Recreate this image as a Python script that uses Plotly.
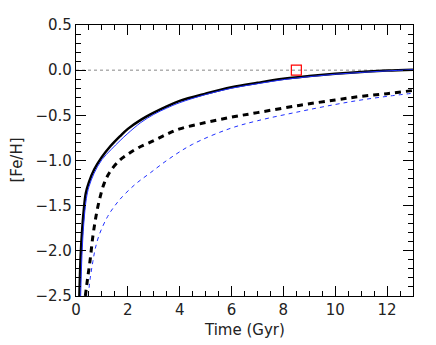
import plotly.graph_objects as go

# black solid
t_black = [0.13, 0.18, 0.23, 0.3, 0.38, 0.5, 0.7, 1.0, 1.3, 1.7, 2.0, 2.5, 3.0, 3.5, 4.0,
           5.0, 6.0, 7.0, 8.0, 9.0, 10.0, 11.0, 12.0, 13.0]
feh_black = [-2.5, -2.05, -1.8, -1.55, -1.36, -1.24, -1.10, -0.96, -0.85, -0.73, -0.65, -0.55,
             -0.47, -0.40, -0.34, -0.26, -0.19, -0.14, -0.095, -0.065, -0.04, -0.02, -0.005, 0.005]

# blue solid
t_blue = [0.18, 0.23, 0.3, 0.4, 0.5, 0.7, 1.0, 1.35, 1.7, 2.0, 2.5, 3.0, 3.5, 4.0,
          5.0, 6.0, 7.0, 8.0, 9.0, 10.0, 11.0, 12.0, 13.0]
feh_blue = [-2.5, -2.05, -1.7, -1.42, -1.29, -1.14, -0.99, -0.88, -0.78, -0.70, -0.58,
            -0.49, -0.42, -0.36, -0.27, -0.20, -0.15, -0.105, -0.072, -0.045, -0.025, -0.008, 0.005]

# black dashed
t_black_d = [0.36, 0.45, 0.55, 0.65, 0.77, 0.9, 1.09, 1.3, 1.67, 2.0, 2.4, 3.0, 3.5, 4.0,
             5.0, 6.0, 7.0, 8.6, 10.0, 11.0, 12.0, 13.0]
feh_black_d = [-2.5, -2.3, -2.09, -1.84, -1.62, -1.44, -1.25, -1.13, -1.0, -0.93, -0.86,
               -0.78, -0.71, -0.65, -0.58, -0.52, -0.47, -0.39, -0.33, -0.29, -0.26, -0.225]

# blue dashed
t_blue_d = [0.47, 0.55, 0.65, 0.74, 0.9, 1.22, 1.5, 1.79, 2.3, 2.85, 3.6, 4.5, 5.9, 7.0,
            8.6, 10.0, 11.0, 12.0, 13.0]
feh_blue_d = [-2.5, -2.3, -2.12, -1.98, -1.82, -1.62, -1.50, -1.40, -1.26, -1.14, -0.98,
              -0.82, -0.65, -0.56, -0.46, -0.38, -0.33, -0.29, -0.255]

sun_t = [8.5]
sun_feh = [0.0]

FONT = dict(family='DejaVu Sans', size=15, color='#222222')

fig = go.Figure()
fig.add_trace(go.Scatter(x=[0, 13], y=[0, 0], mode='lines',
                         line=dict(color='#888888', width=1, dash='dot')))
fig.add_trace(go.Scatter(x=t_blue_d, y=feh_blue_d, mode='lines', line_shape='spline',
                         line=dict(color='#1f2fff', width=1, dash='4px,4px')))
fig.add_trace(go.Scatter(x=t_black_d, y=feh_black_d, mode='lines', line_shape='spline',
                         line=dict(color='black', width=3, dash='6px,5px')))
fig.add_trace(go.Scatter(x=t_black, y=feh_black, mode='lines', line_shape='spline',
                         line=dict(color='black', width=2.5)))
fig.add_trace(go.Scatter(x=t_blue, y=feh_blue, mode='lines', line_shape='spline',
                         line=dict(color='#1f2fff', width=1)))
fig.add_trace(go.Scatter(x=sun_t, y=sun_feh, mode='markers',
                         marker=dict(symbol='square-open', size=10, color='red',
                                     line=dict(width=1.2, color='red'))))

axis_common = dict(showgrid=False, zeroline=False, showline=True, linecolor='black',
                   linewidth=1.2, mirror='ticks', ticks='inside', tickcolor='black',
                   ticklen=10, tickwidth=1, automargin=False, tickfont=FONT)

fig.update_xaxes(range=[0, 13], dtick=2, tick0=0,
                 minor=dict(dtick=0.5, ticks='inside', ticklen=5, tickcolor='black'),
                 **axis_common)
fig.update_yaxes(range=[-2.5, 0.5], dtick=0.5, tick0=0, tickformat='.1f',
                 minor=dict(dtick=0.1, ticks='inside', ticklen=5, tickcolor='black'),
                 **axis_common)

fig.add_annotation(text='Time (Gyr)', xref='paper', yref='paper', x=0.5, y=-0.125,
                   yanchor='middle', showarrow=False, font=FONT)
fig.add_annotation(text='[Fe/H]', xref='paper', yref='paper', x=-0.178, y=0.5,
                   xanchor='center', textangle=-90, showarrow=False, font=FONT)

# page body adds an 8px margin, so the figure is 8px smaller and margins shifted
fig.update_layout(width=428, height=337, showlegend=False,
                  margin=dict(l=68, r=23, t=17, b=49),
                  plot_bgcolor='white', paper_bgcolor='white')

fig.write_html("out.html")
